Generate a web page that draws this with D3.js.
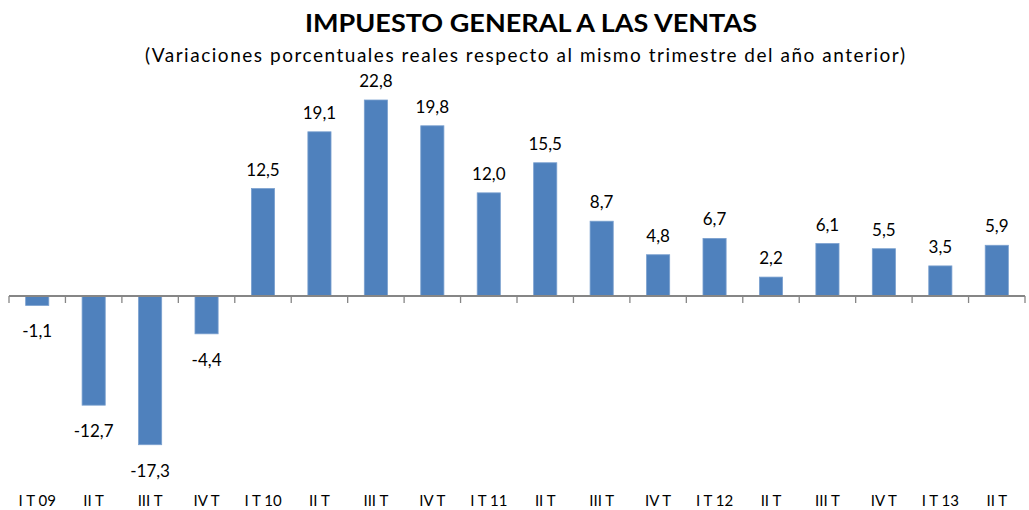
<!DOCTYPE html>
<html>
<head>
<meta charset="utf-8">
<script src="https://cdn.jsdelivr.net/npm/d3@7"></script>
<style>
  body { margin: 0; background: #fff; }
  svg { display: block; }
</style>
</head>
<body>
<div id="main"></div>
<script>
// Datos
var trimestres = ["I T 09", "II T", "III T", "IV T", "I T 10", "II T", "III T", "IV T", "I T 11",
                  "II T", "III T", "IV T", "I T 12", "II T", "III T", "IV T", "I T 13", "II T"];
var valores = [-1.1, -12.7, -17.3, -4.4, 12.5, 19.1, 22.8, 19.8, 12.0,
               15.5, 8.7, 4.8, 6.7, 2.2, 6.1, 5.5, 3.5, 5.9];
var titulo = "IMPUESTO GENERAL A LAS VENTAS";
var subtitulo = "(Variaciones porcentuales reales respecto al mismo trimestre del año anterior)";

var width = 1029, height = 510;
// coma decimal y guion normal
var fmt = d => d3.format(".1f")(d).replace(".", ",").replace("\u2212", "-");

function main () {
  const svg = d3.create("svg")
    .attr("width", width)
    .attr("height", height)
    .attr("font-family", "Lato, 'Open Sans', sans-serif");

  const x = d3.scaleBand()
    .domain(d3.range(trimestres.length))
    .range([9, 1025])
    .paddingInner(0.59)
    .paddingOuter(0.295);

  // y(0) = 296, y(22.8) = 100
  const y = d3.scaleLinear()
    .domain([0, 22.8])
    .range([296, 100]);

  // titulos
  svg.append("text")
    .attr("x", 531).attr("y", 32)
    .attr("text-anchor", "middle")
    .attr("font-size", 25).attr("font-weight", "bold")
    .attr("textLength", 452).attr("lengthAdjust", "spacingAndGlyphs")
    .text(titulo);

  svg.append("text")
    .attr("x", 525).attr("y", 62)
    .attr("text-anchor", "middle")
    .attr("font-size", 19).attr("font-weight", 400)
    .attr("textLength", 760).attr("lengthAdjust", "spacing")
    .text(subtitulo);

  // barras
  svg.append("g")
    .selectAll("rect")
    .data(valores)
    .join("rect")
      .attr("x", (d, i) => x(i))
      .attr("width", x.bandwidth())
      .attr("y", d => Math.min(y(d), y(0)))
      .attr("height", d => Math.abs(y(d) - y(0)))
      .attr("fill", "#4f81bd")
      .attr("stroke", "#7aa0cf")
      .attr("stroke-width", 0.8);

  // eje
  const step = x.step();
  const ticks = d3.range(trimestres.length + 1).map(i => 9 + i * step);
  const eje = svg.append("g").attr("stroke", "#868686");
  eje.append("line")
    .attr("x1", 9).attr("x2", 1025)
    .attr("y1", y(0)).attr("y2", y(0))
    .attr("stroke-width", 2);
  eje.selectAll(".tick")
    .data(ticks)
    .join("line")
      .attr("class", "tick")
      .attr("x1", d => d).attr("x2", d => d)
      .attr("y1", y(0)).attr("y2", y(0) + 7)
      .attr("stroke-width", 1.3);

  // etiquetas de valor
  svg.append("g")
    .attr("font-size", 17)
    .attr("text-anchor", "middle")
    .selectAll("text")
    .data(valores)
    .join("text")
      .attr("x", (d, i) => x(i) + x.bandwidth() / 2)
      .attr("y", d => d >= 0 ? y(d) - 13 : y(d) + 32)
      .text(d => fmt(d));

  // etiquetas de categoria
  svg.append("g")
    .attr("font-size", 15)
    .attr("text-anchor", "middle")
    .selectAll("text")
    .data(trimestres)
    .join("text")
      .attr("x", (d, i) => x(i) + x.bandwidth() / 2)
      .attr("y", 506)
      .text(d => d);

  return svg.node();
}

window.onload = function () {
  document.getElementById("main").appendChild(main());
}
</script>
</body>
</html>
